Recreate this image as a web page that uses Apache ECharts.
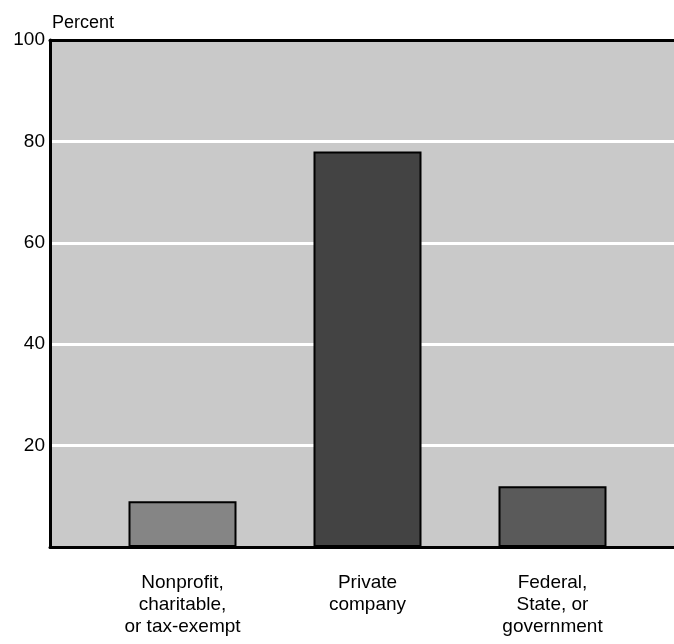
<!DOCTYPE html>
<html>
<head>
<meta charset="utf-8">
<script src="https://cdn.jsdelivr.net/npm/echarts@6/dist/echarts.min.js"></script>
<style>html,body{margin:0;padding:0;background:#fff;}#c{width:674px;height:644px;}</style>
</head>
<body>
<div id="c"></div>
<script>
const categories = ["Nonprofit,\ncharitable,\nor tax-exempt", "Private\ncompany", "Federal,\nState, or\ngovernment"];
const percentValues = [9, 78, 12];
const barColors = ["#858585", "#434343", "#5a5a5a"];
const yTicks = [20, 40, 60, 80, 100];

const chart = echarts.init(document.getElementById('c'), null, {renderer: 'canvas'});
const font = "Liberation Sans, Arial, sans-serif";
chart.setOption({
  animation: false,
  backgroundColor: '#ffffff',
  graphic: [{
    type: 'text', left: 52, top: 14,
    style: {text: 'Percent', font: '18px ' + font, fill: '#000'}
  }],
  grid: [
    {left: 50, right: 0, top: 40, bottom: 97, show: true, backgroundColor: '#c9c9c9', borderWidth: 0},
    {left: 90, right: 29, top: 40, bottom: 97}
  ],
  xAxis: [
    {type: 'value', gridIndex: 0, min: 0, max: 1, position: 'bottom',
     axisLine: {show: true, onZero: false, lineStyle: {color: '#000', width: 3}},
     axisTick: {show: false}, axisLabel: {show: false}, splitLine: {show: false}},
    {type: 'value', gridIndex: 0, min: 0, max: 1, position: 'top',
     axisLine: {show: true, onZero: false, lineStyle: {color: '#000', width: 3}},
     axisTick: {show: false}, axisLabel: {show: false}, splitLine: {show: false}},
    {type: 'category', gridIndex: 1, data: categories,
     axisLine: {show: false}, axisTick: {show: false},
     axisLabel: {color: '#000', fontSize: 19, fontFamily: font, lineHeight: 22, margin: 25, interval: 0}}
  ],
  yAxis: [
    {type: 'value', gridIndex: 0, min: 0, max: 100, interval: 20,
     axisLine: {show: true, lineStyle: {color: '#000', width: 3}},
     axisTick: {show: false},
     axisLabel: {color: '#000', fontSize: 19, fontFamily: font, margin: 5,
       formatter: v => yTicks.includes(v) ? String(v) : ''},
     splitLine: {show: true, lineStyle: {color: '#ffffff', width: 3}}},
    {type: 'value', gridIndex: 1, min: 0, max: 100, show: false}
  ],
  series: [{
    type: 'bar', xAxisIndex: 2, yAxisIndex: 1,
    barWidth: 108,
    data: percentValues.map((v, i) => ({value: v, itemStyle: {color: barColors[i]}})),
    itemStyle: {borderColor: '#000', borderWidth: 2}
  }]
});
</script>
</body>
</html>
